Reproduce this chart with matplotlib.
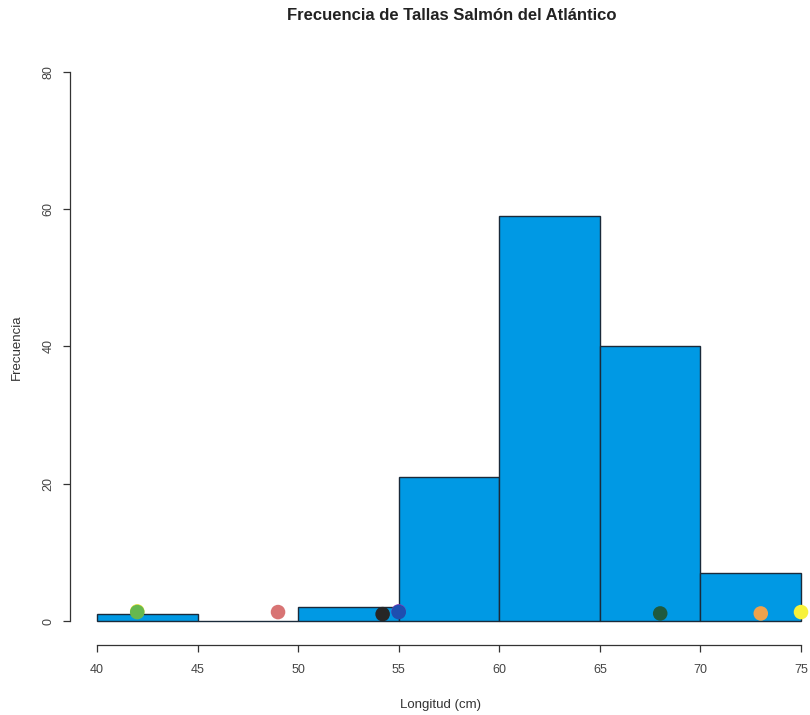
import matplotlib
matplotlib.use("Agg")
import matplotlib.pyplot as plt

plt.rcParams['font.family'] = ['Liberation Sans', 'DejaVu Sans']

bin_edges = [40, 45, 50, 55, 60, 65, 70, 75]
counts = [1, 0, 2, 21, 59, 40, 7]

point_x = [42, 42, 49, 54.2, 55, 55, 68, 73, 75]
point_y = [1.4, 1.3, 1.3, 1.0, 1.4, 1.3, 1.1, 1.1, 1.3]
point_colors = ['#F2E640', '#66B84E', '#D87474', '#262626', '#8E3AB8', '#1E4FB0',
                '#1F5A3E', '#EFA24C', '#F7F23A']

x_ticks = [40, 45, 50, 55, 60, 65, 70, 75]
y_ticks = [0, 20, 40, 60, 80]

fig = plt.figure(figsize=(8.1, 7.15), dpi=100)
ax = fig.add_axes([70/810, 70/715, 740/810, 595/715])

widths = [bin_edges[i+1] - bin_edges[i] for i in range(len(counts))]
ax.bar(bin_edges[:-1], counts, width=widths, align='edge', color='#0099E4',
       edgecolor='#1a2a3a', linewidth=1.0, zorder=2)
ax.scatter(point_x, point_y, s=110, c=point_colors, zorder=3, edgecolors='none')

ax.set_xlim(38.658, 75.447)
ax.set_ylim(-3.497, 83.2)

for s in ['top', 'right']:
    ax.spines[s].set_visible(False)
ax.spines['left'].set_bounds(0, 80)
ax.spines['bottom'].set_bounds(40, 75)
for s in ['left', 'bottom']:
    ax.spines[s].set_color('#333333')
    ax.spines[s].set_linewidth(0.9)

ax.set_xticks(x_ticks)
ax.set_yticks(y_ticks)
ax.set_yticklabels([str(v) for v in y_ticks], rotation=90, va='center')
ax.tick_params(axis='both', colors='#333333', labelcolor='#444444', labelsize=9,
               length=5, width=0.9, direction='out')
ax.tick_params(axis='y', pad=6)
ax.tick_params(axis='x', pad=9)

ax.set_xlabel('Longitud (cm)', fontsize=9.5, color='#333333', labelpad=16)
ax.set_ylabel('Frecuencia', fontsize=9.5, color='#333333', labelpad=14)
fig.text(452/810, 1 - 16/715, 'Frecuencia de Tallas Salmón del Atlántico',
         ha='center', va='center', fontsize=12, fontweight='bold', color='#222222')

fig.savefig('out.png', dpi=100)
